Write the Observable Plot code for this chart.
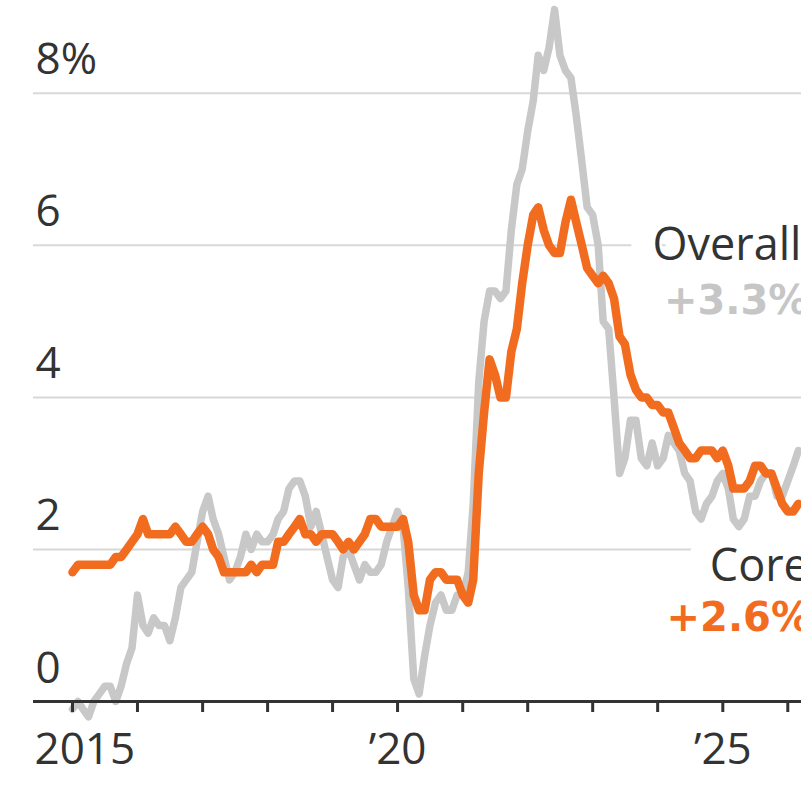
<!DOCTYPE html>
<html>
<head>
<meta charset="utf-8">
<script src="https://cdn.jsdelivr.net/npm/d3@7"></script>
<script src="https://cdn.jsdelivr.net/npm/@observablehq/plot@0.6"></script>
<style>
  html, body { margin: 0; padding: 0; background: #fff; overflow: hidden; }
  #chart svg { overflow: hidden; display: block; }
</style>
</head>
<body>
<div id="chart"></div>
<script>
// Monthly year-over-year change, %, from Jan 2015
const startYear = 2015;
const overall = [
  -0.1, 0.0, -0.1, -0.2, 0.0, 0.1, 0.2, 0.2, 0.0, 0.2, 0.5, 0.7,
  1.4, 1.0, 0.9, 1.1, 1.0, 1.0, 0.8, 1.1, 1.5, 1.6, 1.7, 2.1,
  2.5, 2.7, 2.4, 2.2, 1.9, 1.6, 1.7, 1.9, 2.2, 2.0, 2.2, 2.1,
  2.1, 2.2, 2.4, 2.5, 2.8, 2.9, 2.9, 2.7, 2.3, 2.5, 2.2, 1.9,
  1.6, 1.5, 1.9, 2.0, 1.8, 1.6, 1.8, 1.7, 1.7, 1.8, 2.1, 2.3,
  2.5, 2.3, 1.5, 0.3, 0.1, 0.6, 1.0, 1.3, 1.4, 1.2, 1.2, 1.4,
  1.4, 1.7, 2.6, 4.2, 5.0, 5.4, 5.4, 5.3, 5.4, 6.2, 6.8, 7.0,
  7.5, 7.9, 8.5, 8.3, 8.6, 9.1, 8.5, 8.3, 8.2, 7.7, 7.1, 6.5,
  6.4, 6.0, 5.0, 4.9, 4.0, 3.0, 3.2, 3.7, 3.7, 3.2, 3.1, 3.4,
  3.1, 3.2, 3.5, 3.4, 3.3, 3.0, 2.9, 2.5, 2.4, 2.6, 2.7, 2.9,
  3.0, 2.8, 2.4, 2.3, 2.4, 2.7, 2.7, 2.9, 3.0, 3.0, 2.7, 2.7,
  2.9, 3.1, 3.3
];
const core = [
  1.7, 1.8, 1.8, 1.8, 1.8, 1.8, 1.8, 1.8, 1.9, 1.9, 2.0, 2.1,
  2.2, 2.4, 2.2, 2.2, 2.2, 2.2, 2.2, 2.3, 2.2, 2.1, 2.1, 2.2,
  2.3, 2.2, 2.0, 1.9, 1.7, 1.7, 1.7, 1.7, 1.7, 1.8, 1.7, 1.8,
  1.8, 1.8, 2.1, 2.1, 2.2, 2.3, 2.4, 2.2, 2.2, 2.1, 2.2, 2.2,
  2.2, 2.1, 2.0, 2.1, 2.0, 2.1, 2.2, 2.4, 2.4, 2.3, 2.3, 2.3,
  2.3, 2.4, 2.1, 1.4, 1.2, 1.2, 1.6, 1.7, 1.7, 1.6, 1.6, 1.6,
  1.4, 1.3, 1.6, 3.0, 3.8, 4.5, 4.3, 4.0, 4.0, 4.6, 4.9, 5.5,
  6.0, 6.4, 6.5, 6.2, 6.0, 5.9, 5.9, 6.3, 6.6, 6.3, 6.0, 5.7,
  5.6, 5.5, 5.6, 5.5, 5.3, 4.8, 4.7, 4.3, 4.1, 4.0, 4.0, 3.9,
  3.9, 3.8, 3.8, 3.6, 3.4, 3.3, 3.2, 3.2, 3.3, 3.3, 3.3, 3.2,
  3.3, 3.1, 2.8, 2.8, 2.8, 2.9, 3.1, 3.1, 3.0, 3.0, 2.8, 2.6,
  2.5, 2.5, 2.6
];
const yTicks = [0, 2, 4, 6, 8];
const yGrid = [2, 4, 6, 8];
const xTickYears = [2015, 2016, 2017, 2018, 2019, 2020, 2021, 2022, 2023, 2024, 2025, 2026];
const xLabelYears = [2020, 2025];
const firstLabelYear = 2015;
const seriesLabels = [
  {name: "Overall", value: "+3.3%", nameX: new Date(2023, 11, 3), nameY: 6.0, valueY: 5.27, color: "#c6c6c6"},
  {name: "Core", value: "+2.6%", nameX: new Date(2024, 9, 20), nameY: 1.78, valueY: 1.09, color: "#f26c1f"}
];
const valueX = [new Date(2024, 1, 5), new Date(2024, 1, 20)];

const month = (i) => new Date(startYear, i, 1);
const overallData = overall.map((v, i) => ({date: month(i), v}));
const coreData = core.map((v, i) => ({date: month(i), v}));

const FONT = "Open Sans";
const W = 801, H = 795;

const chart = Plot.plot({
  width: W,
  height: H,
  marginLeft: 33,
  marginRight: 0,
  marginTop: 0,
  marginBottom: 94,
  style: {fontFamily: FONT, background: "#fff", overflow: "hidden"},
  x: {type: "time", domain: [new Date(2014, 4, 27), new Date(2026, 2, 19)], axis: null},
  y: {type: "linear", domain: [0, 9.22], axis: null},
  marks: [
    Plot.gridY(yGrid, {stroke: "#d8d8d8", strokeOpacity: 1, strokeWidth: 2}),
    Plot.axisY(yTicks, {
      anchor: "left", tickSize: 0, tickPadding: 0, dx: 2, dy: -19,
      textAnchor: "start", lineAnchor: "bottom",
      fontSize: 44, fill: "#333",
      tickFormat: (d) => d === 8 ? "8%" : String(d)
    }),
    // series labels with white halo (hides gridline near text)
    Plot.text(seriesLabels, {
      x: "nameX", y: "nameY", text: "name", textAnchor: "start",
      fontSize: 45, fill: "#333", stroke: "white", strokeWidth: 48
    }),
    Plot.text(seriesLabels, {
      x: (d, i) => valueX[i], y: "valueY", text: "value", textAnchor: "start",
      fontFamily: "DejaVu Sans", fontSize: 40, fontWeight: "bold", fill: "color", stroke: "white", strokeWidth: 24
    }),
    Plot.line(overallData, {x: "date", y: "v", stroke: "#c8c8c8", strokeWidth: 7.5, strokeLinejoin: "round", strokeLinecap: "round"}),
    Plot.line(coreData, {x: "date", y: "v", stroke: "#f26c1f", strokeWidth: 8.5, strokeLinejoin: "round", strokeLinecap: "round"}),
    Plot.ruleY([0], {stroke: "#333", strokeWidth: 3}),
    Plot.axisX(xTickYears.map((y) => new Date(y, 0, 1)), {
      anchor: "bottom", tickSize: 11, tickFormat: () => "", stroke: "#333", strokeWidth: 3
    }),
    Plot.text(xLabelYears.map((y) => new Date(y, 0, 1)), {
      x: (d) => d, frameAnchor: "bottom", dy: 62, lineAnchor: "bottom",
      text: (d) => "\u2019" + String(d.getFullYear()).slice(2),
      textAnchor: "middle", fontSize: 44, fill: "#333"
    }),
    Plot.text([new Date(firstLabelYear, 0, 1)], {
      x: (d) => d, frameAnchor: "bottom", dy: 62, dx: -38, lineAnchor: "bottom",
      text: (d) => String(d.getFullYear()),
      textAnchor: "start", fontSize: 44, fill: "#333"
    })
  ]
});
document.getElementById("chart").appendChild(chart);
</script>
</body>
</html>
